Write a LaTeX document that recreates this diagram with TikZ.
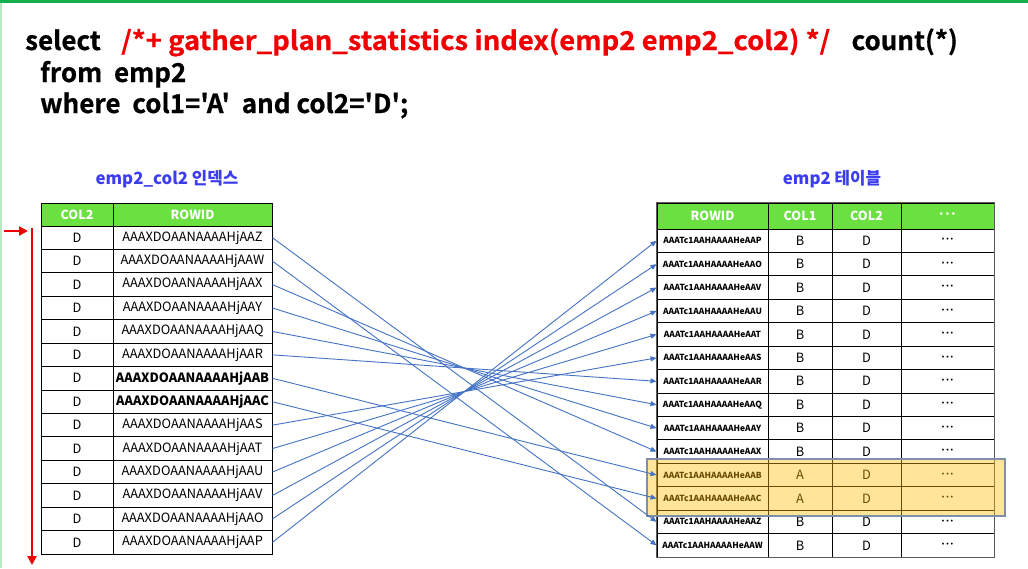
\documentclass[tikz,border=0pt]{standalone}
\usepackage{fontspec}
\setmainfont{Noto Sans CJK KR}
\newfontfamily\sqlfont[FakeBold=0.6]{Noto Sans CJK KR Bold}
\newfontfamily\sqlwidefont[FakeStretch=1.055,FakeBold=0.6]{Noto Sans CJK KR Bold}
\usetikzlibrary{arrows.meta}
\definecolor{hdrgreen}{RGB}{106,225,64}
\definecolor{topgreen}{RGB}{20,176,80}
\definecolor{sidegreen}{RGB}{185,232,195}
\definecolor{connblue}{RGB}{68,114,196}
\definecolor{titleblue}{RGB}{60,60,240}
\definecolor{sqlred}{RGB}{240,0,0}
\definecolor{hlfill}{RGB}{255,192,0}
\definecolor{hlborder}{RGB}{127,143,168}
\definecolor{tblgray}{RGB}{90,90,90}
\newcommand\sq{\char"27\relax}
\newcommand\tdots{·\kern-1.2pt·\kern-1.2pt·}
\tikzset{
  cell/.style={draw=black, line width=1pt, minimum height=23.43pt, inner sep=0pt, font=\fontsize{12.8}{14}\selectfont},
  hdrcell/.style={cell, fill=hdrgreen, text=white, font=\bfseries\fontsize{12.5}{13}\selectfont},
  smallid/.style={font=\bfseries\fontsize{8.4}{9}\selectfont},
  dotcell/.style={font=\bfseries\fontsize{9}{9}\selectfont},
  conn/.style={draw=connblue, line width=0.9pt, -{Triangle[length=6pt,width=5pt]}},
  redarrow/.style={draw=sqlred, line width=2.6pt, -{Triangle[length=9pt,width=9pt]}},
  title/.style={text=titleblue, font=\bfseries\fontsize{16.8}{18}\selectfont},
  sql/.style={inner sep=0pt, font=\sqlfont\fontsize{26}{30}\selectfont},
}
\begin{document}
\begin{tikzpicture}[x=1pt,y=-1pt]
\useasboundingbox (0,0) rectangle (1028,568);
\fill[white] (0,0) rectangle (1028,568);
\fill[sidegreen] (0,0) rectangle (2,568);
\fill[topgreen] (0,0) rectangle (1028,3);

% SQL
\node[sql, anchor=base west] (q1) at (25,50) {select};
\node[sql, anchor=base west, text=sqlred, font=\sqlwidefont\fontsize{26}{30}\selectfont] (q1b) at (121,50) {/*+ gather\_plan\_statistics index(emp2 emp2\_col2) */};
\node[sql, anchor=base east] (q1c) at (958,50) {count(*)};
\node[sql, anchor=base west] (q2) at (40,82) {from\ \ emp2};
\node[sql, anchor=base west] (q3) at (40,113) {where\ \ col1=\sq A\sq\ \ and col2=\sq D\sq;};

% titles
\node[title] (t1) at (167,179) {emp2\_col2 인덱스};
\node[title] (t2) at (832,179) {emp2 테이블};

% left table
\node[hdrcell, minimum width=72pt, minimum height=23pt] (LH1) at (77,214.5) {COL2};
\node[hdrcell, minimum width=159pt, minimum height=23pt] (LH2) at (192.5,214.5) {ROWID};
\foreach \s/\f [count=\i from 0] in {Z/,W/,X/,Y/,Q/,R/,B/\bfseries,C/\bfseries,S/,T/,U/,V/,O/,P/}{
  \pgfmathsetmacro\yy{226+23.43*(\i+0.5)}
  \node[cell, minimum width=72pt] (LC\i) at (77,\yy) {D};
  \node[cell, minimum width=159pt] (L\i) at (192.5,\yy) {\f AAAXDOAANAAAAHjAA\s};
}

% right table
\node[hdrcell, minimum width=111pt, minimum height=26pt] (RH1) at (712.5,216) {ROWID};
\node[hdrcell, minimum width=64pt, minimum height=26pt] (RH2) at (800,216) {COL1};
\node[hdrcell, minimum width=69pt, minimum height=26pt] (RH3) at (866.5,216) {COL2};
\node[hdrcell, minimum width=93pt, minimum height=26pt, font=\bfseries\fontsize{12}{12}\selectfont] (RH4) at (947.5,216) {\tdots};
\foreach \s/\a [count=\i from 0] in {P/B,O/B,V/B,U/B,T/B,S/B,R/B,Q/B,Y/B,X/B,B/A,C/A,Z/B,W/B}{
  \pgfmathsetmacro\yy{229+23.43*(\i+0.5)}
  \node[cell, smallid, minimum width=111pt] (R\i) at (712.5,\yy) {AAATc1AAHAAAAHeAA\s};
  \node[cell, minimum width=64pt] (RA\i) at (800,\yy) {\a};
  \node[cell, minimum width=69pt] (RB\i) at (866.5,\yy) {D};
  \node[cell, dotcell, minimum width=93pt] (RE\i) at (947.5,\yy) {\tdots};
}
\draw[tblgray, line width=1.6pt] (RH1.north west) rectangle (RE13.south east);

% highlight
\node[draw=hlborder, line width=1.5pt, fill=hlfill, fill opacity=0.4, draw opacity=1,
      minimum width=358pt, minimum height=57pt, inner sep=0pt] (hl) at (826,487.5) {};

% connectors
\foreach \a/\b in {0/12,1/13,2/9,3/8,4/7,5/6,6/10,7/11,8/5,9/4,10/3,11/2,12/1,13/0}{
  \draw[conn] (L\a.east) -- (R\b.west);
}

% red scan arrows
\coordinate (ra1) at (4,231);
\coordinate (ra2) at (28,231);
\coordinate (rv1) at (32,228);
\coordinate (rv2) at (32,565);
\draw[redarrow] (ra1) -- (ra2);
\draw[redarrow] (rv1) -- (rv2);
\end{tikzpicture}
\end{document}
